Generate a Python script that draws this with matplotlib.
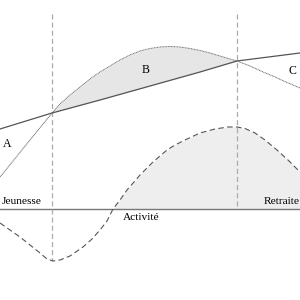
import matplotlib
matplotlib.use("Agg")
import matplotlib.pyplot as plt
import numpy as np

# Cycle de vie : revenu, consommation, epargne
age_revenu = [0, 26, 52, 60, 70, 80, 90, 100, 110, 120, 130, 140, 150, 160, 170,
              180, 190, 200, 210, 220, 230, 237, 250, 262, 275, 287, 300]
revenu = [32, 64, 96, 105, 114, 122, 130, 137, 143, 149, 154, 158, 160.5, 162, 162.5,
          162, 160.5, 158.5, 156, 153, 150, 148, 143, 137.5, 132, 126.5, 121]

age_conso = [0, 52, 100, 150, 200, 237, 300]
conso = [80, 96, 109, 123, 137, 148, 156]

age_epargne = [0, 10, 20, 30, 40, 47, 53, 60, 70, 83, 92, 100, 107, 113, 120, 127,
               134, 140, 147, 153, 160, 167, 175, 185, 200, 215, 228, 237, 245, 255,
               265, 277, 288, 300]
epargne = [-14, -21, -28, -36, -44, -50, -52, -51, -47, -38, -30, -21, -12, 0, 9, 19,
           27, 34, 41, 47, 53, 59, 64, 69, 76, 80, 82, 82, 80.5, 76,
           69, 59, 49, 37]

periodes = ["Jeunesse", "Activité", "Retraite"]
zones = ["A", "B", "C"]
debut_activite = 52
debut_retraite = 237

plt.rcParams['font.family'] = ['Liberation Serif', 'DejaVu Serif']

fig = plt.figure(figsize=(3, 3), dpi=100)
ax = fig.add_axes([0, 0, 1, 1])
ax.set_xlim(0, 300)
ax.set_ylim(-91, 209)
ax.axis('off')

# zone B entre revenu et consommation
xs = [a for a in age_revenu if debut_activite <= a <= debut_retraite]
rs = [r for a, r in zip(age_revenu, revenu) if debut_activite <= a <= debut_retraite]
cs = np.interp(xs, age_conso, conso)
ax.fill_between(xs, rs, cs, color='#e6e6e6', lw=0)

# epargne positive
xe = [a for a, e in zip(age_epargne, epargne) if e >= 0]
ye = [e for e in epargne if e >= 0]
ax.fill_between(xe, ye, 0, color='#eeeeee', lw=0)

# axe horizontal
ax.plot([0, 300], [0, 0], color='#777777', lw=1)

# limites des periodes
ax.plot([debut_activite, debut_activite], [195, -52], color='#aaaaaa', lw=0.9, ls=(0, (4, 2.5)))
ax.plot([debut_retraite, debut_retraite], [195, 0], color='#aaaaaa', lw=0.9, ls=(0, (4, 2.5)))

ax.plot(age_revenu, revenu, color='#666666', lw=0.7, ls=(0, (1, 0.6)))
ax.plot(age_conso, conso, color='#555555', lw=0.9)
ax.plot(age_epargne, epargne, color='#555555', lw=0.8, ls=(0, (5, 3)))

ax.text(7, 65, zones[0], fontsize=8.5, ha='center', va='center')
ax.text(146, 139, zones[1], fontsize=8.5, ha='center', va='center')
ax.text(292, 138, zones[2], fontsize=8.5, ha='center', va='center')

ax.text(2, 7, periodes[0], fontsize=8.2, ha='left', va='center')
ax.text(141, -8, periodes[1], fontsize=8.2, ha='center', va='center')
ax.text(300, 7, periodes[2], fontsize=8.2, ha='right', va='center')

fig.savefig("out.png", dpi=100)
